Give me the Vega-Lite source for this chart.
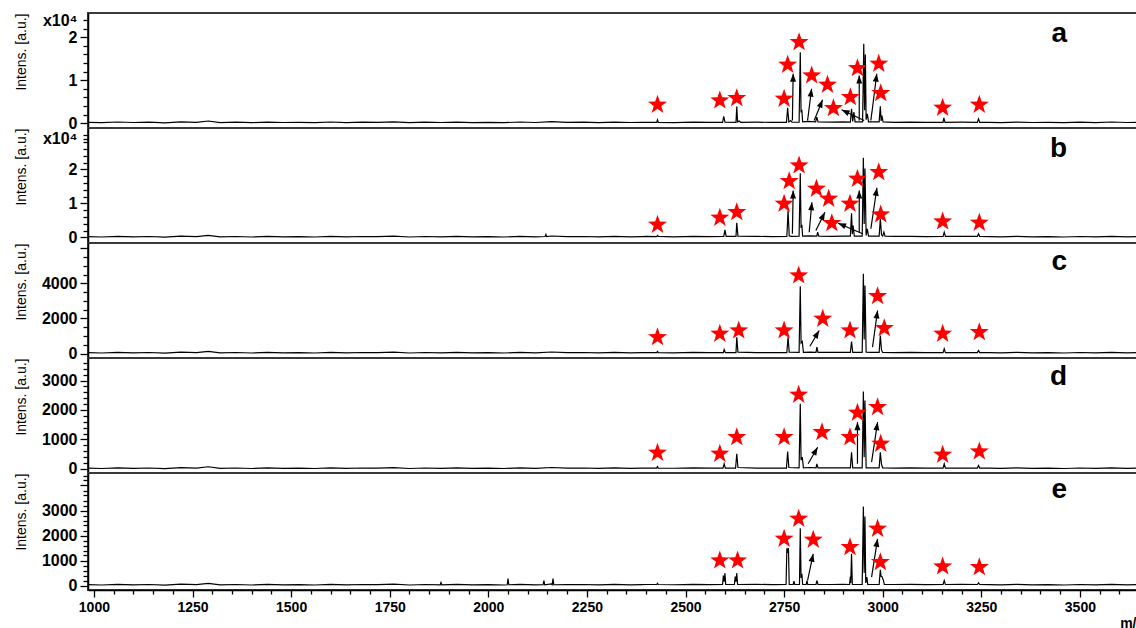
{
"$schema": "https://vega.github.io/schema/vega-lite/v6.json",
"padding": {"left": 13, "top": 11, "right": 0, "bottom": 0},
"config": {
 "view": {"stroke": "#3a3a3a", "strokeWidth": 2},
 "axis": {"domainColor": "#000", "domainWidth": 1.5, "tickColor": "#000", "tickWidth": 1.3, "labelColor": "#000", "labelFont": "Liberation Sans", "labelFontWeight": "bold", "labelFontSize": 16, "titleFont": "Liberation Sans", "titleColor": "#000", "grid": false, "labelOverlap": false, "labelFlush": false},
 "title": {"anchor": "end", "orient": "top", "frame": "group", "offset": -36, "dx": -76, "fontSize": 28, "fontWeight": "bold", "font": "Liberation Sans", "color": "#000", "baseline": "alphabetic"}
},
"datasets": {
 "a_s": [{"mz":985,"i":190},{"mz":1020,"i":120},{"mz":1060,"i":280},{"mz":1100,"i":160},{"mz":1140,"i":230},{"mz":1180,"i":90},{"mz":1220,"i":300},{"mz":1260,"i":190},{"mz":1290,"i":510},{"mz":1320,"i":140},{"mz":1360,"i":230},{"mz":1400,"i":120},{"mz":1440,"i":260},{"mz":1480,"i":160},{"mz":1520,"i":210},{"mz":1560,"i":120},{"mz":1600,"i":280},{"mz":1640,"i":140},{"mz":1680,"i":230},{"mz":1720,"i":190},{"mz":1760,"i":300},{"mz":1800,"i":120},{"mz":1840,"i":230},{"mz":1880,"i":160},{"mz":1920,"i":260},{"mz":1960,"i":140},{"mz":2000,"i":210},{"mz":2040,"i":120},{"mz":2080,"i":280},{"mz":2120,"i":160},{"mz":2160,"i":350},{"mz":2200,"i":190},{"mz":2240,"i":230},{"mz":2280,"i":140},{"mz":2320,"i":260},{"mz":2360,"i":160},{"mz":2390,"i":210},
  {"mz":2400,"i":200},{"mz":2427,"i":180},{"mz":2429,"i":790},{"mz":2431,"i":200},{"mz":2470,"i":150},{"mz":2520,"i":260},{"mz":2560,"i":190},{"mz":2594,"i":200},{"mz":2597,"i":1560},{"mz":2600,"i":250},{"mz":2628,"i":210},{"mz":2630,"i":3880},{"mz":2632,"i":300},{"mz":2636,"i":500},{"mz":2640,"i":200},{"mz":2680,"i":230},{"mz":2720,"i":180},{"mz":2756,"i":200},{"mz":2759,"i":3580},{"mz":2762,"i":300},{"mz":2767,"i":600},{"mz":2770,"i":220},{"mz":2788,"i":230},{"mz":2791,"i":16510},{"mz":2793,"i":2500},{"mz":2795,"i":3100},{"mz":2797,"i":300},{"mz":2810,"i":400},{"mz":2830,"i":300},{"mz":2833,"i":1400},{"mz":2836,"i":300},{"mz":2870,"i":250},{"mz":2900,"i":300},{"mz":2918,"i":250},{"mz":2921,"i":3350},{"mz":2924,"i":400},{"mz":2927,"i":2560},{"mz":2930,"i":300},{"mz":2945,"i":300},{"mz":2949,"i":300},{"mz":2952,"i":18460},{"mz":2954,"i":3000},{"mz":2956,"i":16000},{"mz":2958,"i":800},{"mz":2961,"i":2190},{"mz":2964,"i":300},{"mz":2980,"i":300},{"mz":2991,"i":300},{"mz":2994,"i":3950},{"mz":2996,"i":500},{"mz":2998,"i":1790},{"mz":3001,"i":300},{"mz":3030,"i":200},{"mz":3070,"i":260},{"mz":3110,"i":200},{"mz":3153,"i":200},{"mz":3155,"i":1250},{"mz":3158,"i":200},{"mz":3200,"i":230},{"mz":3240,"i":200},{"mz":3243,"i":1020},{"mz":3246,"i":200},
  {"mz":3270,"i":190},{"mz":3300,"i":140},{"mz":3340,"i":260},{"mz":3380,"i":160},{"mz":3420,"i":210},{"mz":3460,"i":120},{"mz":3500,"i":230},{"mz":3540,"i":140},{"mz":3580,"i":280},{"mz":3620,"i":160},{"mz":3660,"i":230}],
 "a_st": [{"mz":2429,"i":4280},{"mz":2587,"i":5280},{"mz":2630,"i":5810},{"mz":2750,"i":5670},{"mz":2759,"i":13580},{"mz":2788,"i":18840},{"mz":2820,"i":11090},{"mz":2860,"i":8930},{"mz":2875,"i":3490},{"mz":2918,"i":6050},{"mz":2936,"i":12790},{"mz":2990,"i":13810},{"mz":2995,"i":6980},{"mz":3152,"i":3580},{"mz":3245,"i":4280}],
 "a_ar": [{"mz":2771,"i":630,"mz2":2773,"i2":11490},{"mz":2809.5,"i":630,"mz2":2819.7,"i2":8000},{"mz":2826.3,"i":630,"mz2":2847.6,"i2":5440},{"mz":2953,"i":630,"mz2":2895.7,"i2":3120},{"mz":2940.5,"i":630,"mz2":2940.5,"i2":11090},{"mz":2970,"i":630,"mz2":2985,"i2":11490}],
 "b_s": [{"mz":985,"i":240},{"mz":1020,"i":150},{"mz":1060,"i":350},{"mz":1100,"i":210},{"mz":1140,"i":290},{"mz":1180,"i":120},{"mz":1220,"i":380},{"mz":1260,"i":240},{"mz":1290,"i":650},{"mz":1320,"i":180},{"mz":1360,"i":290},{"mz":1400,"i":150},{"mz":1440,"i":320},{"mz":1480,"i":210},{"mz":1520,"i":260},{"mz":1560,"i":150},{"mz":1600,"i":350},{"mz":1640,"i":180},{"mz":1680,"i":290},{"mz":1720,"i":240},{"mz":1760,"i":380},{"mz":1800,"i":150},{"mz":1840,"i":290},{"mz":1880,"i":210},{"mz":1920,"i":320},{"mz":1960,"i":180},{"mz":2000,"i":260},{"mz":2040,"i":150},{"mz":2080,"i":350},{"mz":2120,"i":210},{"mz":2144,"i":290},{"mz":2146,"i":900},{"mz":2148,"i":290},{"mz":2160,"i":440},{"mz":2200,"i":240},{"mz":2240,"i":290},{"mz":2280,"i":180},{"mz":2320,"i":320},{"mz":2360,"i":210},{"mz":2390,"i":260},
  {"mz":2400,"i":300},{"mz":2427,"i":280},{"mz":2429,"i":600},{"mz":2431,"i":300},{"mz":2470,"i":200},{"mz":2520,"i":350},{"mz":2560,"i":250},{"mz":2597,"i":300},{"mz":2600,"i":2260},{"mz":2603,"i":300},{"mz":2628,"i":300},{"mz":2630,"i":4320},{"mz":2633,"i":400},{"mz":2680,"i":320},{"mz":2720,"i":260},{"mz":2757,"i":300},{"mz":2760,"i":7940},{"mz":2763,"i":500},{"mz":2767,"i":350},{"mz":2788,"i":400},{"mz":2791,"i":18910},{"mz":2793,"i":2800},{"mz":2795,"i":3740},{"mz":2797,"i":400},{"mz":2815,"i":500},{"mz":2833,"i":400},{"mz":2835,"i":1560},{"mz":2838,"i":400},{"mz":2870,"i":350},{"mz":2900,"i":400},{"mz":2918,"i":400},{"mz":2921,"i":7150},{"mz":2923,"i":1000},{"mz":2925,"i":3530},{"mz":2928,"i":400},{"mz":2948,"i":400},{"mz":2951,"i":23440},{"mz":2953,"i":4000},{"mz":2955,"i":20290},{"mz":2958,"i":600},{"mz":2961,"i":2560},{"mz":2964,"i":400},{"mz":2980,"i":400},{"mz":2991,"i":400},{"mz":2994,"i":5500},{"mz":2997,"i":800},{"mz":3000,"i":400},{"mz":3003,"i":1560},{"mz":3006,"i":400},{"mz":3030,"i":300},{"mz":3070,"i":350},{"mz":3110,"i":280},{"mz":3153,"i":300},{"mz":3156,"i":1560},{"mz":3159,"i":300},{"mz":3200,"i":320},{"mz":3240,"i":300},{"mz":3243,"i":1090},{"mz":3246,"i":300},
  {"mz":3270,"i":240},{"mz":3300,"i":180},{"mz":3340,"i":320},{"mz":3380,"i":210},{"mz":3420,"i":260},{"mz":3460,"i":150},{"mz":3500,"i":290},{"mz":3540,"i":180},{"mz":3580,"i":350},{"mz":3620,"i":210},{"mz":3660,"i":290}],
 "b_st": [{"mz":2429,"i":3735},{"mz":2587,"i":5790},{"mz":2630,"i":7440},{"mz":2750,"i":9910},{"mz":2763,"i":16560},{"mz":2788,"i":21180},{"mz":2832,"i":14320},{"mz":2863,"i":11380},{"mz":2871,"i":4200},{"mz":2917,"i":9910},{"mz":2936,"i":17260},{"mz":2990,"i":19210},{"mz":2995,"i":6760},{"mz":3152,"i":4710},{"mz":3245,"i":4320}],
 "b_ar": [{"mz":2771,"i":1090,"mz2":2773,"i2":13820},{"mz":2813.6,"i":1560,"mz2":2820.5,"i2":10380},{"mz":2830.6,"i":2060,"mz2":2853.4,"i2":7440},{"mz":2949,"i":1090,"mz2":2887,"i2":4210},{"mz":2940.5,"i":1560,"mz2":2940.5,"i2":13820},{"mz":2970,"i":2560,"mz2":2985.3,"i2":14620}],
 "c_s": [{"mz":985,"i":46},{"mz":1020,"i":29},{"mz":1060,"i":68},{"mz":1100,"i":40},{"mz":1140,"i":57},{"mz":1180,"i":23},{"mz":1220,"i":74},{"mz":1260,"i":46},{"mz":1290,"i":125},{"mz":1320,"i":34},{"mz":1360,"i":57},{"mz":1400,"i":29},{"mz":1440,"i":63},{"mz":1480,"i":40},{"mz":1520,"i":51},{"mz":1560,"i":29},{"mz":1600,"i":68},{"mz":1640,"i":34},{"mz":1680,"i":57},{"mz":1720,"i":46},{"mz":1760,"i":74},{"mz":1800,"i":29},{"mz":1840,"i":57},{"mz":1880,"i":40},{"mz":1920,"i":63},{"mz":1960,"i":34},{"mz":2000,"i":51},{"mz":2040,"i":29},{"mz":2080,"i":68},{"mz":2120,"i":40},{"mz":2160,"i":86},{"mz":2200,"i":46},{"mz":2240,"i":57},{"mz":2280,"i":34},{"mz":2320,"i":63},{"mz":2360,"i":40},{"mz":2390,"i":51},
  {"mz":2400,"i":50},{"mz":2427,"i":50},{"mz":2429,"i":120},{"mz":2431,"i":50},{"mz":2470,"i":40},{"mz":2520,"i":60},{"mz":2560,"i":45},{"mz":2596,"i":50},{"mz":2598,"i":230},{"mz":2601,"i":50},{"mz":2628,"i":50},{"mz":2630,"i":930},{"mz":2633,"i":80},{"mz":2680,"i":55},{"mz":2720,"i":45},{"mz":2757,"i":50},{"mz":2760,"i":930},{"mz":2763,"i":80},{"mz":2788,"i":60},{"mz":2791,"i":3846},{"mz":2793,"i":600},{"mz":2796,"i":686},{"mz":2799,"i":60},{"mz":2815,"i":80},{"mz":2831,"i":60},{"mz":2833,"i":360},{"mz":2836,"i":60},{"mz":2870,"i":60},{"mz":2900,"i":70},{"mz":2918,"i":60},{"mz":2921,"i":686},{"mz":2924,"i":60},{"mz":2948,"i":60},{"mz":2951,"i":4554},{"mz":2953,"i":800},{"mz":2955,"i":3886},{"mz":2958,"i":80},{"mz":2970,"i":70},{"mz":2991,"i":60},{"mz":2994,"i":1030},{"mz":2997,"i":200},{"mz":3000,"i":60},{"mz":3030,"i":50},{"mz":3070,"i":60},{"mz":3110,"i":45},{"mz":3153,"i":50},{"mz":3156,"i":269},{"mz":3159,"i":50},{"mz":3200,"i":55},{"mz":3240,"i":50},{"mz":3243,"i":171},{"mz":3246,"i":50},
  {"mz":3270,"i":46},{"mz":3300,"i":34},{"mz":3340,"i":63},{"mz":3380,"i":40},{"mz":3420,"i":51},{"mz":3460,"i":29},{"mz":3500,"i":57},{"mz":3540,"i":34},{"mz":3580,"i":68},{"mz":3620,"i":40},{"mz":3660,"i":57}],
 "c_st": [{"mz":2429,"i":930},{"mz":2587,"i":1125},{"mz":2635,"i":1314},{"mz":2750,"i":1314},{"mz":2787,"i":4457},{"mz":2848,"i":1983},{"mz":2917,"i":1314},{"mz":2987,"i":3274},{"mz":3004,"i":1446},{"mz":3152,"i":1125},{"mz":3245,"i":1217}],
 "c_ar": [{"mz":2815.4,"i":417,"mz2":2839,"i2":1314},{"mz":2974.2,"i":360,"mz2":2987,"i2":2457}],
 "d_s": [{"mz":985,"i":27},{"mz":1020,"i":17},{"mz":1060,"i":41},{"mz":1100,"i":24},{"mz":1140,"i":34},{"mz":1180,"i":14},{"mz":1220,"i":44},{"mz":1260,"i":27},{"mz":1290,"i":75},{"mz":1320,"i":20},{"mz":1360,"i":34},{"mz":1400,"i":17},{"mz":1440,"i":37},{"mz":1480,"i":24},{"mz":1520,"i":31},{"mz":1560,"i":17},{"mz":1600,"i":41},{"mz":1640,"i":20},{"mz":1680,"i":34},{"mz":1720,"i":27},{"mz":1760,"i":44},{"mz":1800,"i":17},{"mz":1840,"i":34},{"mz":1880,"i":24},{"mz":1920,"i":37},{"mz":1960,"i":20},{"mz":2000,"i":31},{"mz":2040,"i":17},{"mz":2080,"i":41},{"mz":2120,"i":24},{"mz":2160,"i":51},{"mz":2200,"i":27},{"mz":2240,"i":34},{"mz":2280,"i":20},{"mz":2320,"i":37},{"mz":2360,"i":24},{"mz":2390,"i":31},
  {"mz":2400,"i":30},{"mz":2427,"i":30},{"mz":2429,"i":80},{"mz":2431,"i":30},{"mz":2470,"i":25},{"mz":2520,"i":35},{"mz":2560,"i":28},{"mz":2595,"i":30},{"mz":2598,"i":176},{"mz":2601,"i":30},{"mz":2627,"i":30},{"mz":2630,"i":515},{"mz":2633,"i":50},{"mz":2680,"i":32},{"mz":2720,"i":28},{"mz":2756,"i":30},{"mz":2759,"i":593},{"mz":2762,"i":50},{"mz":2788,"i":40},{"mz":2791,"i":2210},{"mz":2793,"i":300},{"mz":2796,"i":400},{"mz":2799,"i":40},{"mz":2815,"i":50},{"mz":2831,"i":40},{"mz":2833,"i":176},{"mz":2836,"i":40},{"mz":2870,"i":35},{"mz":2900,"i":40},{"mz":2918,"i":40},{"mz":2921,"i":569},{"mz":2924,"i":40},{"mz":2948,"i":40},{"mz":2951,"i":2627},{"mz":2953,"i":400},{"mz":2955,"i":2322},{"mz":2958,"i":40},{"mz":2970,"i":40},{"mz":2991,"i":40},{"mz":2994,"i":569},{"mz":2997,"i":150},{"mz":3000,"i":40},{"mz":3030,"i":30},{"mz":3070,"i":35},{"mz":3110,"i":28},{"mz":3153,"i":30},{"mz":3156,"i":176},{"mz":3159,"i":30},{"mz":3200,"i":32},{"mz":3240,"i":30},{"mz":3243,"i":119},{"mz":3246,"i":30},
  {"mz":3270,"i":27},{"mz":3300,"i":20},{"mz":3340,"i":37},{"mz":3380,"i":24},{"mz":3420,"i":31},{"mz":3460,"i":17},{"mz":3500,"i":34},{"mz":3540,"i":20},{"mz":3580,"i":41},{"mz":3620,"i":24},{"mz":3660,"i":34}],
 "d_st": [{"mz":2429,"i":549},{"mz":2587,"i":515},{"mz":2630,"i":1078},{"mz":2750,"i":1078},{"mz":2787,"i":2515},{"mz":2846,"i":1247},{"mz":2917,"i":1078},{"mz":2936,"i":1905},{"mz":2987,"i":2095},{"mz":2995,"i":854},{"mz":3152,"i":481},{"mz":3245,"i":593}],
 "d_ar": [{"mz":2811,"i":176,"mz2":2835,"i2":739},{"mz":2936,"i":176,"mz2":2936,"i2":1586},{"mz":2971.8,"i":230,"mz2":2987,"i2":1586}],
 "e_s": [{"mz":985,"i":32},{"mz":1020,"i":20},{"mz":1060,"i":48},{"mz":1100,"i":28},{"mz":1140,"i":40},{"mz":1180,"i":16},{"mz":1220,"i":52},{"mz":1260,"i":32},{"mz":1290,"i":88},{"mz":1320,"i":24},{"mz":1360,"i":40},{"mz":1400,"i":20},{"mz":1440,"i":44},{"mz":1480,"i":28},{"mz":1520,"i":36},{"mz":1560,"i":20},{"mz":1600,"i":48},{"mz":1640,"i":24},{"mz":1680,"i":40},{"mz":1720,"i":32},{"mz":1760,"i":52},{"mz":1800,"i":20},{"mz":1840,"i":40},{"mz":1878,"i":28},{"mz":1880,"i":120},{"mz":1882,"i":28},{"mz":1920,"i":44},{"mz":1960,"i":24},{"mz":2000,"i":36},{"mz":2040,"i":20},{"mz":2048,"i":30},{"mz":2050,"i":280},{"mz":2052,"i":30},{"mz":2080,"i":48},{"mz":2120,"i":28},{"mz":2139,"i":30},{"mz":2141,"i":200},{"mz":2143,"i":30},{"mz":2160,"i":60},{"mz":2162,"i":30},{"mz":2164,"i":280},{"mz":2166,"i":30},{"mz":2200,"i":32},{"mz":2240,"i":40},{"mz":2280,"i":24},{"mz":2320,"i":44},{"mz":2360,"i":28},{"mz":2390,"i":36},
  {"mz":2400,"i":40},{"mz":2427,"i":40},{"mz":2429,"i":90},{"mz":2431,"i":40},{"mz":2470,"i":30},{"mz":2520,"i":45},{"mz":2560,"i":35},{"mz":2594,"i":40},{"mz":2596,"i":400},{"mz":2598,"i":150},{"mz":2600,"i":493},{"mz":2602,"i":40},{"mz":2624,"i":40},{"mz":2626,"i":360},{"mz":2628,"i":150},{"mz":2630,"i":493},{"mz":2632,"i":40},{"mz":2680,"i":45},{"mz":2720,"i":35},{"mz":2755,"i":40},{"mz":2757,"i":1493},{"mz":2759,"i":1300},{"mz":2761,"i":1493},{"mz":2763,"i":40},{"mz":2773,"i":40},{"mz":2775,"i":173},{"mz":2777,"i":40},{"mz":2789,"i":40},{"mz":2791,"i":2293},{"mz":2793,"i":300},{"mz":2795,"i":467},{"mz":2797,"i":40},{"mz":2806,"i":40},{"mz":2808,"i":200},{"mz":2810,"i":40},{"mz":2831,"i":40},{"mz":2833,"i":200},{"mz":2836,"i":40},{"mz":2870,"i":40},{"mz":2900,"i":45},{"mz":2916,"i":40},{"mz":2918,"i":360},{"mz":2919,"i":100},{"mz":2921,"i":1267},{"mz":2923,"i":40},{"mz":2948,"i":40},{"mz":2951,"i":3160},{"mz":2953,"i":500},{"mz":2955,"i":2760},{"mz":2957,"i":100},{"mz":2960,"i":333},{"mz":2962,"i":40},{"mz":2991,"i":40},{"mz":2994,"i":627},{"mz":2996,"i":360},{"mz":2998,"i":360},{"mz":3002,"i":200},{"mz":3004,"i":40},{"mz":3030,"i":40},{"mz":3070,"i":45},{"mz":3110,"i":35},{"mz":3153,"i":40},{"mz":3156,"i":200},{"mz":3159,"i":40},{"mz":3200,"i":45},{"mz":3240,"i":40},{"mz":3243,"i":108},{"mz":3246,"i":40},
  {"mz":3270,"i":32},{"mz":3300,"i":24},{"mz":3340,"i":44},{"mz":3380,"i":28},{"mz":3420,"i":36},{"mz":3460,"i":20},{"mz":3500,"i":40},{"mz":3540,"i":24},{"mz":3580,"i":48},{"mz":3620,"i":28},{"mz":3660,"i":40}],
 "e_st": [{"mz":2587,"i":1000},{"mz":2632,"i":1000},{"mz":2750,"i":1867},{"mz":2787,"i":2667},{"mz":2824,"i":1827},{"mz":2917,"i":1533},{"mz":2987,"i":2267},{"mz":2994,"i":933},{"mz":3152,"i":760},{"mz":3245,"i":733}],
 "e_ar": [{"mz":2809.5,"i":200,"mz2":2823.8,"i2":1267},{"mz":2971.8,"i":333,"mz2":2987,"i2":1867}]
},
"spacing": 0,
"bounds": "flush",
"vconcat": [
 {"width": 1055, "height": 115, "title": "a",
  "encoding": {
   "x": {"field":"mz","type":"quantitative","scale":{"domain":[985,3660],"nice":false,"zero":false},"axis":null},
   "y": {"field":"i","type":"quantitative","scale":{"domain":[-1120,25630],"nice":false,"zero":false},"title":"Intens. [a.u.]",
     "axis":{"values":[0,2000,4000,6000,8000,10000,12000,14000,16000,18000,20000,22000,24000],"labelExpr":"datum.value==0?'0':datum.value==10000?'1':datum.value==20000?'2':datum.value==24000?'x10⁴':''","tickSize":8,"tickDash":{"condition":{"test":"datum.value==0||datum.value==10000||datum.value==20000","value":[20,1]},"value":[5,20]},"labelPadding":3,"minExtent":56,"maxExtent":56,"titlePadding":4,"titleAnchor":"end","titleFontSize":14,"titleFontWeight":"normal"}}
  },
  "layer": [
   {"data":{"name":"a_s"},"mark":{"type":"line","color":"#000","strokeWidth":1.2}},
   {"data":{"name":"a_ar"},"mark":{"type":"rule","color":"#000","strokeWidth":1.2},"encoding":{"x2":{"field":"mz2"},"y2":{"field":"i2"}}},
   {"data":{"name":"a_ar"},"transform":[{"calculate":"atan2((datum.mz2-datum.mz)*0.3944,(datum.i2-datum.i)*0.0043)*180/PI","as":"ang"},{"calculate":"datum.mz2","as":"mz"},{"calculate":"datum.i2","as":"i"}],
    "mark":{"type":"point","shape":"M0,0L0.6,1.6L-0.6,1.6Z","filled":true,"color":"#000","opacity":1,"size":100,"strokeWidth":0},
    "encoding":{"angle":{"field":"ang","type":"quantitative","scale":null}}},
   {"data":{"name":"a_st"},"mark":{"type":"point","shape":"M0,-1L0.235,-0.324L0.951,-0.309L0.38,0.124L0.588,0.809L0,0.4L-0.588,0.809L-0.38,0.124L-0.951,-0.309L-0.235,-0.324Z","filled":true,"color":"#ff0000","opacity":1,"size":400,"strokeWidth":0}}
  ]},
 {"width": 1055, "height": 115, "title": "b",
  "encoding": {
   "x": {"field":"mz","type":"quantitative","scale":{"domain":[985,3660],"nice":false,"zero":false},"axis":null},
   "y": {"field":"i","type":"quantitative","scale":{"domain":[-1620,32200],"nice":false,"zero":false},"title":"Intens. [a.u.]",
     "axis":{"values":[0,2000,4000,6000,8000,10000,12000,14000,16000,18000,20000,22000,24000,26000,28000,29000,30000],"labelExpr":"datum.value==0?'0':datum.value==10000?'1':datum.value==20000?'2':datum.value==29000?'x10⁴':''","tickSize":8,"tickDash":{"condition":{"test":"datum.value==0||datum.value==10000||datum.value==20000","value":[20,1]},"value":[5,20]},"labelPadding":3,"minExtent":56,"maxExtent":56,"titlePadding":4,"titleAnchor":"end","titleFontSize":14,"titleFontWeight":"normal"}}
  },
  "layer": [
   {"data":{"name":"b_s"},"mark":{"type":"line","color":"#000","strokeWidth":1.2}},
   {"data":{"name":"b_ar"},"mark":{"type":"rule","color":"#000","strokeWidth":1.2},"encoding":{"x2":{"field":"mz2"},"y2":{"field":"i2"}}},
   {"data":{"name":"b_ar"},"transform":[{"calculate":"atan2((datum.mz2-datum.mz)*0.3944,(datum.i2-datum.i)*0.0034)*180/PI","as":"ang"},{"calculate":"datum.mz2","as":"mz"},{"calculate":"datum.i2","as":"i"}],
    "mark":{"type":"point","shape":"M0,0L0.6,1.6L-0.6,1.6Z","filled":true,"color":"#000","opacity":1,"size":100,"strokeWidth":0},
    "encoding":{"angle":{"field":"ang","type":"quantitative","scale":null}}},
   {"data":{"name":"b_st"},"mark":{"type":"point","shape":"M0,-1L0.235,-0.324L0.951,-0.309L0.38,0.124L0.588,0.809L0,0.4L-0.588,0.809L-0.38,0.124L-0.951,-0.309L-0.235,-0.324Z","filled":true,"color":"#ff0000","opacity":1,"size":400,"strokeWidth":0}}
  ]},
 {"width": 1055, "height": 115, "title": "c",
  "encoding": {
   "x": {"field":"mz","type":"quantitative","scale":{"domain":[985,3660],"nice":false,"zero":false},"axis":null},
   "y": {"field":"i","type":"quantitative","scale":{"domain":[-257,6314],"nice":false,"zero":false},"title":"Intens. [a.u.]",
     "axis":{"values":[0,500,1000,1500,2000,2500,3000,3500,4000,4500,5000,5500,6000],"format":"d","labelExpr":"datum.value==0||datum.value==2000||datum.value==4000?datum.label:''","tickSize":8,"tickDash":{"condition":{"test":"datum.value%2000==0","value":[20,1]},"value":[5,20]},"labelPadding":3,"minExtent":56,"maxExtent":56,"titlePadding":4,"titleAnchor":"end","titleFontSize":14,"titleFontWeight":"normal"}}
  },
  "layer": [
   {"data":{"name":"c_s"},"mark":{"type":"line","color":"#000","strokeWidth":1.2}},
   {"data":{"name":"c_ar"},"mark":{"type":"rule","color":"#000","strokeWidth":1.2},"encoding":{"x2":{"field":"mz2"},"y2":{"field":"i2"}}},
   {"data":{"name":"c_ar"},"transform":[{"calculate":"atan2((datum.mz2-datum.mz)*0.3944,(datum.i2-datum.i)*0.0175)*180/PI","as":"ang"},{"calculate":"datum.mz2","as":"mz"},{"calculate":"datum.i2","as":"i"}],
    "mark":{"type":"point","shape":"M0,0L0.6,1.6L-0.6,1.6Z","filled":true,"color":"#000","opacity":1,"size":100,"strokeWidth":0},
    "encoding":{"angle":{"field":"ang","type":"quantitative","scale":null}}},
   {"data":{"name":"c_st"},"mark":{"type":"point","shape":"M0,-1L0.235,-0.324L0.951,-0.309L0.38,0.124L0.588,0.809L0,0.4L-0.588,0.809L-0.38,0.124L-0.951,-0.309L-0.235,-0.324Z","filled":true,"color":"#ff0000","opacity":1,"size":400,"strokeWidth":0}}
  ]},
 {"width": 1055, "height": 115, "title": "d",
  "encoding": {
   "x": {"field":"mz","type":"quantitative","scale":{"domain":[985,3660],"nice":false,"zero":false},"axis":null},
   "y": {"field":"i","type":"quantitative","scale":{"domain":[-136,3763],"nice":false,"zero":false},"title":"Intens. [a.u.]",
     "axis":{"values":[0,200,400,600,800,1000,1200,1400,1600,1800,2000,2200,2400,2600,2800,3000,3200,3400,3600],"format":"d","labelExpr":"datum.value%1000==0?datum.label:''","tickSize":8,"tickDash":{"condition":{"test":"datum.value%1000==0","value":[20,1]},"value":[5,20]},"labelPadding":3,"minExtent":56,"maxExtent":56,"titlePadding":4,"titleAnchor":"end","titleFontSize":14,"titleFontWeight":"normal"}}
  },
  "layer": [
   {"data":{"name":"d_s"},"mark":{"type":"line","color":"#000","strokeWidth":1.2}},
   {"data":{"name":"d_ar"},"mark":{"type":"rule","color":"#000","strokeWidth":1.2},"encoding":{"x2":{"field":"mz2"},"y2":{"field":"i2"}}},
   {"data":{"name":"d_ar"},"transform":[{"calculate":"atan2((datum.mz2-datum.mz)*0.3944,(datum.i2-datum.i)*0.0295)*180/PI","as":"ang"},{"calculate":"datum.mz2","as":"mz"},{"calculate":"datum.i2","as":"i"}],
    "mark":{"type":"point","shape":"M0,0L0.6,1.6L-0.6,1.6Z","filled":true,"color":"#000","opacity":1,"size":100,"strokeWidth":0},
    "encoding":{"angle":{"field":"ang","type":"quantitative","scale":null}}},
   {"data":{"name":"d_st"},"mark":{"type":"point","shape":"M0,-1L0.235,-0.324L0.951,-0.309L0.38,0.124L0.588,0.809L0,0.4L-0.588,0.809L-0.38,0.124L-0.951,-0.309L-0.235,-0.324Z","filled":true,"color":"#ff0000","opacity":1,"size":400,"strokeWidth":0}}
  ]},
 {"width": 1055, "height": 117, "title": "e",
  "encoding": {
   "x": {"field":"mz","type":"quantitative","scale":{"domain":[985,3660],"nice":false,"zero":false},"title":"m/z",
     "axis":{"values":[1000,1050,1100,1150,1200,1250,1300,1350,1400,1450,1500,1550,1600,1650,1700,1750,1800,1850,1900,1950,2000,2050,2100,2150,2200,2250,2300,2350,2400,2450,2500,2550,2600,2650,2700,2750,2800,2850,2900,2950,3000,3050,3100,3150,3200,3250,3300,3350,3400,3450,3500,3550,3600,3650],"format":"d","labelExpr":"datum.value%250==0?datum.label:''","tickSize":7,"tickDash":{"condition":{"test":"datum.value%250==0","value":[20,1]},"value":[4,20]},"labelFontSize":14,"labelPadding":3,"titleAnchor":"end","titleFontWeight":"bold","titleFontSize":14,"titlePadding":2}},
   "y": {"field":"i","type":"quantitative","scale":{"domain":[-180,4500],"nice":false,"zero":false},"title":"Intens. [a.u.]",
     "axis":{"values":[0,200,400,600,800,1000,1200,1400,1600,1800,2000,2200,2400,2600,2800,3000,3200,3400,3600,3800,4000,4200,4400],"format":"d","labelExpr":"datum.value%1000==0&&datum.value<=3000?datum.label:''","tickSize":8,"tickDash":{"condition":{"test":"datum.value%1000==0","value":[20,1]},"value":[5,20]},"labelPadding":3,"minExtent":56,"maxExtent":56,"titlePadding":4,"titleAnchor":"end","titleFontSize":14,"titleFontWeight":"normal"}}
  },
  "layer": [
   {"data":{"name":"e_s"},"mark":{"type":"line","color":"#000","strokeWidth":1.2}},
   {"data":{"name":"e_ar"},"mark":{"type":"rule","color":"#000","strokeWidth":1.2},"encoding":{"x2":{"field":"mz2"},"y2":{"field":"i2"}}},
   {"data":{"name":"e_ar"},"transform":[{"calculate":"atan2((datum.mz2-datum.mz)*0.3944,(datum.i2-datum.i)*0.025)*180/PI","as":"ang"},{"calculate":"datum.mz2","as":"mz"},{"calculate":"datum.i2","as":"i"}],
    "mark":{"type":"point","shape":"M0,0L0.6,1.6L-0.6,1.6Z","filled":true,"color":"#000","opacity":1,"size":100,"strokeWidth":0},
    "encoding":{"angle":{"field":"ang","type":"quantitative","scale":null}}},
   {"data":{"name":"e_st"},"mark":{"type":"point","shape":"M0,-1L0.235,-0.324L0.951,-0.309L0.38,0.124L0.588,0.809L0,0.4L-0.588,0.809L-0.38,0.124L-0.951,-0.309L-0.235,-0.324Z","filled":true,"color":"#ff0000","opacity":1,"size":400,"strokeWidth":0}}
  ]}
]
}
